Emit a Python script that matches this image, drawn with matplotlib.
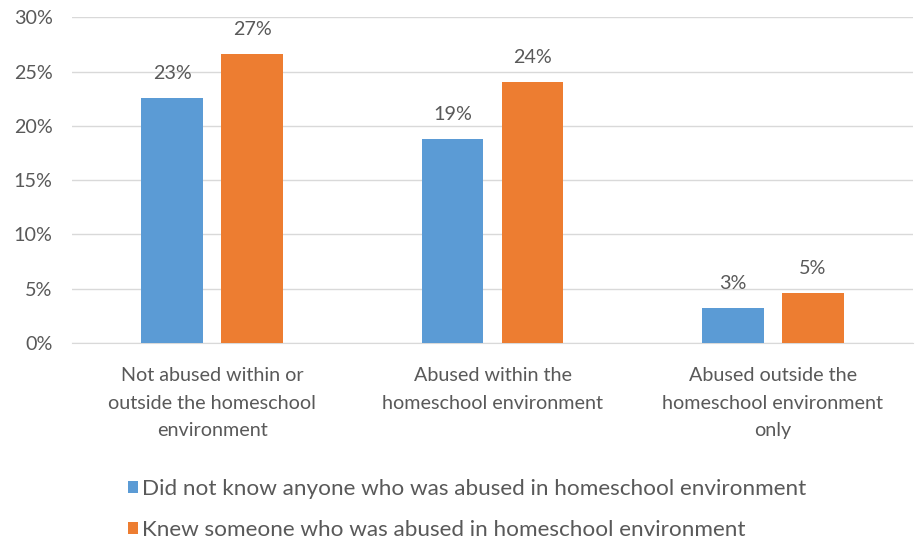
import matplotlib
matplotlib.use("Agg")
import matplotlib.pyplot as plt
import numpy as np
from matplotlib.patches import Patch

categories = [
    "Not abused within or\noutside the homeschool\nenvironment",
    "Abused within the\nhomeschool environment",
    "Abused outside the\nhomeschool environment\nonly",
]
series_names = [
    "Did not know anyone who was abused in homeschool environment",
    "Knew someone who was abused in homeschool environment",
]
did_not_know = [22.6, 18.8, 3.2]
knew_someone = [26.6, 24.0, 4.6]
y_ticks = [0, 5, 10, 15, 20, 25, 30]

colors = ["#5b9bd5", "#ed7d31"]
text_color = "#595959"
font = ["Lato", "DejaVu Sans"]
fs = 14.2
fs_leg = 16.2

fig = plt.figure(figsize=(9.16, 5.45), dpi=100)
ax = fig.add_axes([72 / 916, 202 / 545, (913 - 72) / 916, (343 - 17.3) / 545])

x = np.arange(len(categories))
width = 0.22
offset = 0.143
for vals, col, dx in zip([did_not_know, knew_someone], colors, [-offset, offset]):
    b = ax.bar(x + dx, vals, width, color=col, zorder=3)
    for rect, v in zip(b, vals):
        ax.annotate(f"{round(v):d}%", (rect.get_x() + rect.get_width() / 2, rect.get_height()),
                    xytext=(0, 16), textcoords="offset pixels", ha="center", va="bottom",
                    fontsize=fs, color=text_color, family=font)

ax.set_xlim(-0.5, 2.5)
ax.set_ylim(0, 30)
ax.set_yticks(y_ticks)
ax.set_yticklabels([f"{t}%" for t in y_ticks], fontsize=fs, color=text_color, family=font)
ax.set_xticks(x)
ax.set_xticklabels(categories, fontsize=fs, color=text_color, family=font, linespacing=1.75)
ax.tick_params(axis="both", length=0)
ax.tick_params(axis="x", pad=17.5)
ax.tick_params(axis="y", pad=14)
ax.yaxis.grid(True, color="#d9d9d9", linewidth=1, zorder=0)
for s in ["top", "right", "left"]:
    ax.spines[s].set_visible(False)
ax.spines["bottom"].set_color("#d9d9d9")
ax.spines["bottom"].set_zorder(1)

handles = [Patch(facecolor=c, edgecolor="none") for c in colors]
leg = fig.legend(handles, series_names, loc="upper left", bbox_to_anchor=(121 / 916, 1 - 472 / 545),
                 frameon=False, handlelength=0.45, handleheight=0.45, handletextpad=0.2,
                 labelspacing=0.93, borderaxespad=0, borderpad=0.3,
                 prop={"family": font, "size": fs_leg})
for t in leg.get_texts():
    t.set_color(text_color)

fig.savefig("out.png", dpi=100)
